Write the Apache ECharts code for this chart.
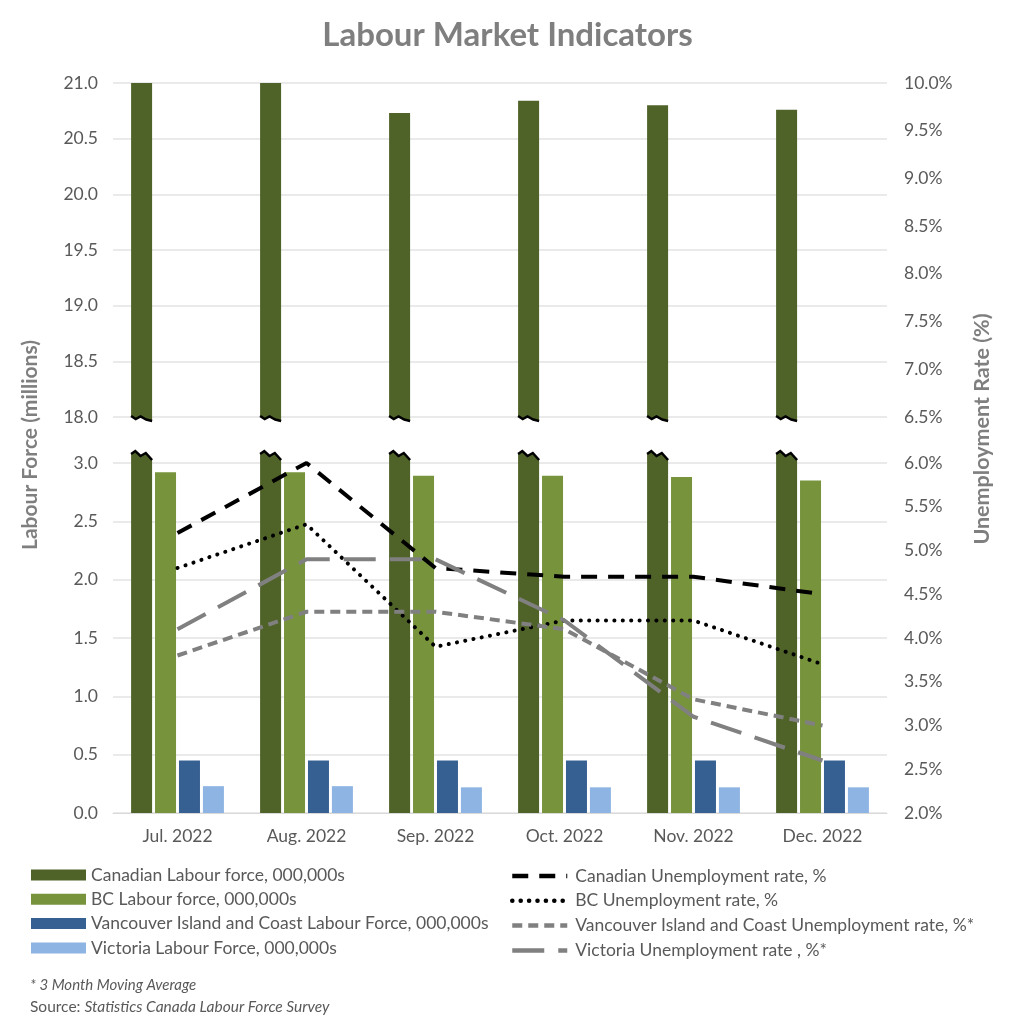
<!DOCTYPE html>
<html>
<head>
<meta charset="utf-8">
<script src="https://cdn.jsdelivr.net/npm/echarts@6/dist/echarts.min.js"></script>
<style>
html,body{margin:0;padding:0;background:#fff;}
#chart{width:1015px;height:1024px;}
</style>
</head>
<body>
<div id="chart"></div>
<script>
// ---- data ----
const categories = ['Jul. 2022', 'Aug. 2022', 'Sep. 2022', 'Oct. 2022', 'Nov. 2022', 'Dec. 2022'];
const canadaLF   = [21.0, 21.0, 20.73, 20.84, 20.80, 20.76];
const bcLF       = [2.92, 2.92, 2.89, 2.89, 2.88, 2.85];
const vicCoastLF = [0.45, 0.45, 0.45, 0.45, 0.45, 0.45];
const victoriaLF = [0.23, 0.23, 0.22, 0.22, 0.22, 0.22];
const canadaUR   = [5.2, 6.0, 4.8, 4.7, 4.7, 4.5];
const bcUR       = [4.8, 5.3, 3.9, 4.2, 4.2, 3.7];
const vicCoastUR = [3.8, 4.3, 4.3, 4.1, 3.3, 3.0];
const victoriaUR = [4.1, 4.9, 4.9, 4.2, 3.1, 2.6];
// axis ranges (tick labels generated from these)
const leftUpper  = [18, 21];
const leftLower  = [0, 3];
const rightUpper = [6.5, 10];
const rightLower = [2, 6];
const tickStep = 0.5;

const names = {
  canLF: 'Canadian Labour force, 000,000s',
  bcLF: 'BC Labour force, 000,000s',
  vicLF: 'Vancouver Island and Coast Labour Force, 000,000s',
  vtLF: 'Victoria Labour Force, 000,000s',
  canUR: 'Canadian Unemployment rate, %',
  bcUR: 'BC Unemployment rate, %',
  vicUR: 'Vancouver Island and Coast Unemployment rate, %*',
  vtUR: 'Victoria Unemployment rate , %*'
};

const FONT = 'Lato';
const TXT = '#595959';
const FS = 17.5;
const C_DARK = '#4F6228', C_LIGHT = '#77933C', C_BLUE = '#366092', C_LBLUE = '#8DB4E2';
const BAR_W = 21, BAR_GAP = 0.14;

function firstBarLeft(cx) {
  const total = 4 * BAR_W + 3 * BAR_W * BAR_GAP;
  return cx - total / 2;
}

function capRender(level, shape) {
  return function (params, api) {
    const i = api.value(0);
    const p = api.coord([i, level]);
    const x0 = firstBarLeft(p[0]);
    const w = BAR_W;
    const base = p[1];
    const pts = shape.map(s => [x0 + s[0] * w, base + s[1]]);
    const poly = [[x0, base]].concat(pts).concat([[x0 + w, base]]);
    return {
      type: 'group',
      children: [
        { type: 'polygon', shape: { points: poly }, style: { fill: C_DARK } },
        { type: 'polyline', shape: { points: pts }, style: { stroke: '#000', lineWidth: 2.5, fill: null } }
      ]
    };
  };
}

const lowerCap = [[0, -9], [0.2, -12], [0.45, -7], [0.7, -10], [1, -3]];
const upperCap = [[0, -1], [0.22, 2], [0.45, -0.5], [0.72, 2.5], [1, 4]];

const pct = v => v.toFixed(1) + '%';
const dec = v => v.toFixed(1);
const axisLabel = { color: TXT, fontFamily: FONT, fontSize: FS };

const chart = echarts.init(document.getElementById('chart'), null, { renderer: 'canvas' });

chart.setOption({
  animation: false,
  backgroundColor: '#fff',
  title: [
    { text: 'Labour Market Indicators', left: 'center', top: 14,
      textStyle: { color: '#7f7f7f', fontFamily: FONT, fontSize: 33, fontWeight: 'bold' } },
    { text: '* 3 Month Moving Average', left: 30, top: 978, padding: 0,
      textStyle: { color: TXT, fontFamily: FONT, fontSize: 15, fontStyle: 'italic', fontWeight: 'normal' } },
    { text: 'Source: {i|Statistics Canada Labour Force Survey}', left: 30, top: 999, padding: 0,
      textStyle: { color: TXT, fontFamily: FONT, fontSize: 15.5, fontWeight: 'normal',
        rich: { i: { fontStyle: 'italic', fontFamily: FONT, fontSize: 15.5, color: TXT } } } }
  ],
  grid: [
    { left: 113, width: 774, top: 83, height: 334 },
    { left: 113, width: 774, top: 463, height: 350 }
  ],
  legend: [
    { orient: 'vertical', left: 31, top: 866, padding: 0, itemWidth: 55, itemHeight: 11, itemGap: 6.3,
      icon: 'rect',
      textStyle: { color: TXT, fontFamily: FONT, fontSize: FS, lineHeight: 18 },
      data: [names.canLF, names.bcLF, names.vicLF, names.vtLF] },
    { orient: 'vertical', left: 510, top: 867, padding: 0, itemWidth: 55, itemHeight: 11, itemGap: 6.8,
      itemStyle: { color: 'rgba(0,0,0,0)', borderWidth: 0, opacity: 0 },
      lineStyle: { width: 4.5 },
      textStyle: { color: TXT, fontFamily: FONT, fontSize: FS, lineHeight: 18, padding: [0, 0, 0, 3] },
      data: [names.canUR, names.bcUR, names.vicUR, names.vtUR] }
  ],
  xAxis: [
    { type: 'category', gridIndex: 0, data: categories, axisLine: { show: false }, axisTick: { show: false }, axisLabel: { show: false } },
    { type: 'category', gridIndex: 1, data: categories,
      axisLine: { show: true, lineStyle: { color: '#d9d9d9', width: 1 } }, axisTick: { show: false },
      axisLabel: Object.assign({ margin: 14 }, axisLabel) }
  ],
  yAxis: [
    { type: 'value', gridIndex: 0, min: leftUpper[0], max: leftUpper[1], interval: tickStep,
      axisLine: { show: false }, axisTick: { show: false },
      axisLabel: Object.assign({ formatter: dec, margin: 15 }, axisLabel),
      splitLine: { show: true, lineStyle: { color: '#e3e3e3', width: 1.5 } } },
    { type: 'value', gridIndex: 0, position: 'right', min: rightUpper[0], max: rightUpper[1], interval: tickStep,
      axisLine: { show: false }, axisTick: { show: false },
      axisLabel: Object.assign({ formatter: pct, margin: 17 }, axisLabel),
      splitLine: { show: false } },
    { type: 'value', gridIndex: 1, min: leftLower[0], max: leftLower[1], interval: tickStep,
      axisLine: { show: false }, axisTick: { show: false },
      axisLabel: Object.assign({ formatter: dec, margin: 15 }, axisLabel),
      splitLine: { show: true, lineStyle: { color: '#e3e3e3', width: 1.5 } } },
    { type: 'value', gridIndex: 1, position: 'right', min: rightLower[0], max: rightLower[1], interval: tickStep,
      axisLine: { show: false }, axisTick: { show: false },
      axisLabel: Object.assign({ formatter: pct, margin: 17 }, axisLabel),
      splitLine: { show: false } }
  ],
  graphic: [
    { type: 'text', x: 30, y: 445, rotation: Math.PI / 2,
      style: { text: 'Labour Force (millions)', fill: '#7f7f7f', font: 'bold 21px ' + FONT, textAlign: 'center', textVerticalAlign: 'middle' } },
    { type: 'text', x: 982, y: 429, rotation: Math.PI / 2,
      style: { text: 'Unemployment Rate (%)', fill: '#7f7f7f', font: 'bold 21.5px ' + FONT, textAlign: 'center', textVerticalAlign: 'middle' } }
  ],
  series: [
    // upper grid bars
    { name: names.canLF, type: 'bar', xAxisIndex: 0, yAxisIndex: 0, data: canadaLF, barWidth: BAR_W, barGap: '14%', itemStyle: { color: C_DARK } },
    { name: 'u2', type: 'bar', xAxisIndex: 0, yAxisIndex: 0, data: [], barWidth: BAR_W, barGap: '14%' },
    { name: 'u3', type: 'bar', xAxisIndex: 0, yAxisIndex: 0, data: [], barWidth: BAR_W, barGap: '14%' },
    { name: 'u4', type: 'bar', xAxisIndex: 0, yAxisIndex: 0, data: [], barWidth: BAR_W, barGap: '14%' },
    // lower grid bars
    { name: names.canLF, type: 'bar', xAxisIndex: 1, yAxisIndex: 2, data: canadaLF, barWidth: BAR_W, barGap: '14%', itemStyle: { color: C_DARK } },
    { name: names.bcLF, type: 'bar', xAxisIndex: 1, yAxisIndex: 2, data: bcLF, barWidth: BAR_W, barGap: '14%', itemStyle: { color: C_LIGHT } },
    { name: names.vicLF, type: 'bar', xAxisIndex: 1, yAxisIndex: 2, data: vicCoastLF, barWidth: BAR_W, barGap: '14%', itemStyle: { color: C_BLUE } },
    { name: names.vtLF, type: 'bar', xAxisIndex: 1, yAxisIndex: 2, data: victoriaLF, barWidth: BAR_W, barGap: '14%', itemStyle: { color: C_LBLUE } },
    // broken-bar caps
    { type: 'custom', name: 'capU', xAxisIndex: 0, yAxisIndex: 0, silent: true, z: 3,
      data: canadaLF.map((v, i) => [i, v]), renderItem: capRender(leftUpper[0], upperCap) },
    { type: 'custom', name: 'capL', xAxisIndex: 1, yAxisIndex: 2, silent: true, z: 3,
      data: canadaLF.map((v, i) => [i, v]), renderItem: capRender(leftLower[1], lowerCap) },
    // unemployment lines
    { name: names.canUR, type: 'line', xAxisIndex: 1, yAxisIndex: 3, data: canadaUR, symbol: 'none', z: 5,
      itemStyle: { color: '#000' }, lineStyle: { color: '#000', width: 4, type: [16, 11] } },
    { name: names.bcUR, type: 'line', xAxisIndex: 1, yAxisIndex: 3, data: bcUR, symbol: 'none', z: 5,
      itemStyle: { color: '#000' }, lineStyle: { color: '#000', width: 4, type: [0.1, 8.3], cap: 'round' } },
    { name: names.vicUR, type: 'line', xAxisIndex: 1, yAxisIndex: 3, data: vicCoastUR, symbol: 'none', z: 5,
      itemStyle: { color: '#808080' }, lineStyle: { color: '#808080', width: 4, type: [10, 6] } },
    { name: names.vtUR, type: 'line', xAxisIndex: 1, yAxisIndex: 3, data: victoriaUR, symbol: 'none', z: 5,
      itemStyle: { color: '#808080' }, lineStyle: { color: '#808080', width: 4, type: [32, 14] } }
  ]
});
</script>
</body>
</html>
